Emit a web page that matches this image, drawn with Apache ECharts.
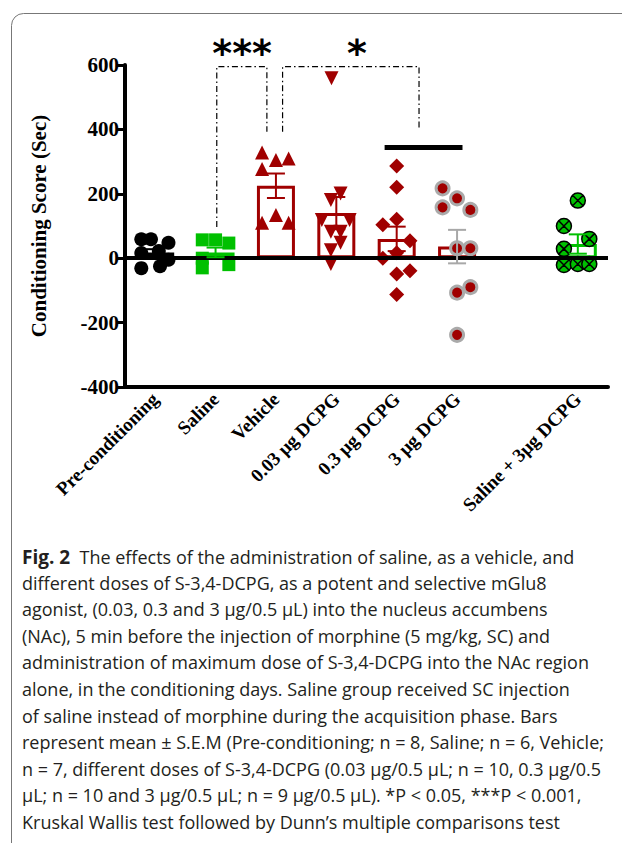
<!DOCTYPE html>
<html>
<head>
<meta charset="utf-8">
<script src="https://cdn.jsdelivr.net/npm/echarts@6/dist/echarts.min.js"></script>
<style>
  html, body { margin: 0; padding: 0; background: #fff; }
  #chart { width: 622px; height: 843px; }
</style>
</head>
<body>
<div id="chart"></div>
<script>
// groups on the x axis (slot 6 is an empty gap)
var categories = ['Pre-conditioning', 'Saline', 'Vehicle', '0.03 μg DCPG', '0.3 μg DCPG', '3 μg DCPG', '', 'Saline + 3μg DCPG'];
var yTicks = [-400, -200, 0, 200, 400, 600];

// bar heights (mean) and S.E.M per group
var means = [18, 18, 225, 140, 60, 36, null, 44];
var sems = [10, 15, 38, 50, 38, 52, null, 30];

// individual animals (value) and their horizontal spread inside the slot
var preVals = [59, 59, 48, 16, 22, -5, -31, -25];
var preJit = [-0.23, -0.07, 0.22, -0.23, 0.06, 0.22, -0.23, 0.08];
var salVals = [57, 57, 47, 0, -20, -30];
var salJit = [-0.22, 0, 0.22, -0.22, 0.22, -0.22];
var vehVals = [328, 305, 310, 277, 110, 134, 110];
var vehJit = [-0.23, 0, 0.21, -0.23, -0.23, 0, 0.21];
var d003Vals = [559, 201, 181, 119, 119, 82, 82, 48, 25, -18];
var d003Jit = [-0.08, 0.07, -0.09, 0.22, -0.24, -0.09, 0.07, 0.07, -0.09, -0.09];
var d03Vals = [286, 220, 121, 104, 54, 17, 0, -39, -49, -113];
var d03Jit = [0, 0, 0, -0.23, 0.22, 0, -0.23, 0.22, 0, 0];
var d3Vals = [217, 186, 158, 150, 31, 31, -107, -90, -238];
var d3Jit = [-0.24, 0, -0.24, 0.22, 0, 0.22, 0, 0.22, 0];
var salD3Vals = [179, 100, 60, 29, -21, -18, -18];
var salD3Jit = [0, -0.23, 0.19, -0.23, -0.23, 0, 0.19];

// significance marks: brackets [x in slot units, value]
var bracket1 = [[1.52, 97], [1.52, 595], [2.35, 595], [2.35, 393]];
var bracket2 = [[2.61, 393], [2.61, 595], [4.87, 595], [4.87, 398]];
var groupLine = [[4.30, 344], [5.59, 344]];
var stars = [[1.94, 636, '***'], [3.84, 636, '*']];

var captionLines = [
  '{b|Fig. 2}  The effects of the administration of saline, as a vehicle, and',
  'different doses of S-3,4-DCPG, as a potent and selective mGlu8',
  'agonist, (0.03, 0.3 and 3 μg/0.5 μL) into the nucleus accumbens',
  '(NAc), 5 min before the injection of morphine (5 mg/kg, SC) and',
  'administration of maximum dose of S-3,4-DCPG into the NAc region',
  'alone, in the conditioning days. Saline group received SC injection',
  'of saline instead of morphine during the acquisition phase. Bars',
  'represent mean ± S.E.M (Pre-conditioning; n = 8, Saline; n = 6, Vehicle;',
  'n = 7, different doses of S-3,4-DCPG (0.03 μg/0.5 μL; n = 10, 0.3 μg/0.5',
  'μL; n = 10 and 3 μg/0.5 μL; n = 9 μg/0.5 μL). *P < 0.05, ***P < 0.001,',
  'Kruskal Wallis test followed by Dunn’s multiple comparisons test'
];

var RED = '#a00000';
var GREEN = '#00c000';
var SERIF = '"Liberation Serif", "Times New Roman", serif';
var barColors = ['#000', GREEN, RED, RED, RED, RED, '#000', GREEN];
var errColors = ['#000', GREEN, RED, RED, RED, '#a8a8a8', '#000', GREEN];
var crossCircle = 'path://M0,-10A10,10 0 1,1 0,10A10,10 0 1,1 0,-10Z M-7,-7L7,7 M7,-7L-7,7';

function pts(slot, vals, jit) {
  return vals.map(function (v, i) { return [slot + 0.5 + jit[i], v]; });
}

function dots(name, data, symbol, size, style, extra) {
  style.opacity = 1;
  var s = {
    name: name, type: 'scatter', xAxisIndex: 1, data: data,
    symbol: symbol, symbolSize: size, itemStyle: style, z: 4, clip: false
  };
  for (var k in extra) s[k] = extra[k];
  return s;
}

function dashLine(data, width, type) {
  return {
    type: 'line', xAxisIndex: 1, data: data, symbol: 'none', z: 6, clip: false,
    lineStyle: { color: '#000', width: width, type: type }, silent: true
  };
}

var errData = [];
means.forEach(function (m, i) {
  if (m !== null) errData.push([i + 0.5, m, sems[i], i]);
});

var chart = echarts.init(document.getElementById('chart'), null, { renderer: 'svg' });

var captionGraphics = captionLines.map(function (t, i) {
  return {
    type: 'text', left: 22, top: 547 + i * 26.6,
    style: {
      text: t, fill: '#231f20', font: '18px "Open Sans", sans-serif',
      rich: { b: { fontWeight: 'bold', fontSize: 19, fontFamily: '"Open Sans", sans-serif', fill: '#231f20' } }
    }
  };
});

chart.setOption({
  animation: false,
  backgroundColor: '#fff',
  grid: { left: 125, right: 14, top: 65, bottom: 456, containLabel: false },
  xAxis: [{
    type: 'category', data: categories,
    axisLine: { onZero: false, lineStyle: { color: '#000', width: 4 } },
    axisTick: { show: false },
    axisLabel: {
      interval: 0, rotate: 45, margin: 9, color: '#000',
      fontFamily: SERIF, fontWeight: 'bold', fontSize: 19
    },
    splitLine: { show: false }
  }, {
    type: 'value', min: 0, max: 8, show: false
  }],
  yAxis: {
    type: 'value', min: yTicks[0], max: yTicks[yTicks.length - 1], interval: 200,
    name: 'Conditioning Score (Sec)', nameLocation: 'middle', nameGap: 76,
    nameTextStyle: { fontFamily: SERIF, fontWeight: 'bold', fontSize: 21, color: '#000' },
    axisLine: { show: true, lineStyle: { color: '#000', width: 4 } },
    axisTick: { show: true, length: 9, lineStyle: { color: '#000', width: 3 } },
    axisLabel: { color: '#000', fontFamily: SERIF, fontWeight: 'bold', fontSize: 21, margin: 6 },
    splitLine: { show: false }
  },
  graphic: [{
    type: 'rect', left: 9, top: 11, z: -1,
    shape: { width: 700, height: 900, r: 12 },
    style: { fill: 'none', stroke: '#777', lineWidth: 1 }
  }].concat(captionGraphics),
  series: [{
    type: 'bar', barWidth: 38, z: 2,
    data: means.map(function (m, i) {
      return {
        value: m,
        itemStyle: { color: 'rgba(0,0,0,0)', borderColor: barColors[i], borderWidth: 3 }
      };
    }),
    markLine: {
      silent: true, symbol: 'none', label: { show: false },
      lineStyle: { color: '#000', width: 4, type: 'solid' },
      data: [{ yAxis: 0 }]
    }
  },
  dots('Pre-conditioning', pts(0, preVals, preJit), 'circle', 14, { color: '#000' }),
  dots('Saline', pts(1, salVals, salJit), 'rect', 13, { color: GREEN }),
  dots('Vehicle', pts(2, vehVals, vehJit), 'triangle', 14, { color: RED }),
  dots('0.03', pts(3, d003Vals, d003Jit), 'triangle', 14, { color: RED }, { symbolRotate: 180 }),
  dots('0.3', pts(4, d03Vals, d03Jit), 'diamond', 15, { color: RED }),
  dots('3', pts(5, d3Vals, d3Jit), 'circle', 13, { color: RED, borderColor: '#aaa', borderWidth: 3 }),
  dots('Saline + 3', pts(7, salD3Vals, salD3Jit), crossCircle, 15,
       { color: GREEN, borderColor: '#000', borderWidth: 1.5 }),
  {
    type: 'custom', xAxisIndex: 1, z: 5, data: errData,
    renderItem: function (params, api) {
      var x = api.value(0), m = api.value(1), s = api.value(2);
      var top = api.coord([x, m + s]);
      var bot = api.coord([x, m - s]);
      var c = errColors[api.value(3)];
      var w = 9;
      var st = { stroke: c, lineWidth: 2 };
      return {
        type: 'group', children: [
          { type: 'line', shape: { x1: top[0], y1: top[1], x2: bot[0], y2: bot[1] }, style: st },
          { type: 'line', shape: { x1: top[0] - w, y1: top[1], x2: top[0] + w, y2: top[1] }, style: st },
          { type: 'line', shape: { x1: bot[0] - w, y1: bot[1], x2: bot[0] + w, y2: bot[1] }, style: st }
        ]
      };
    }
  },
  dashLine(bracket1, 1.2, [6, 3, 1.5, 3]),
  dashLine(bracket2, 1.2, [6, 3, 1.5, 3]),
  dashLine(groupLine, 5, 'solid'),
  {
    type: 'scatter', xAxisIndex: 1, data: stars, symbolSize: 1, clip: false, z: 6,
    itemStyle: { color: 'rgba(0,0,0,0)', opacity: 1 },
    label: {
      show: true, position: 'inside', color: '#000', opacity: 1,
      fontFamily: '"DejaVu Sans", sans-serif', fontWeight: 'bold', fontSize: 38,
      formatter: function (p) { return p.value[2]; }
    }
  }]
});
</script>
</body>
</html>
